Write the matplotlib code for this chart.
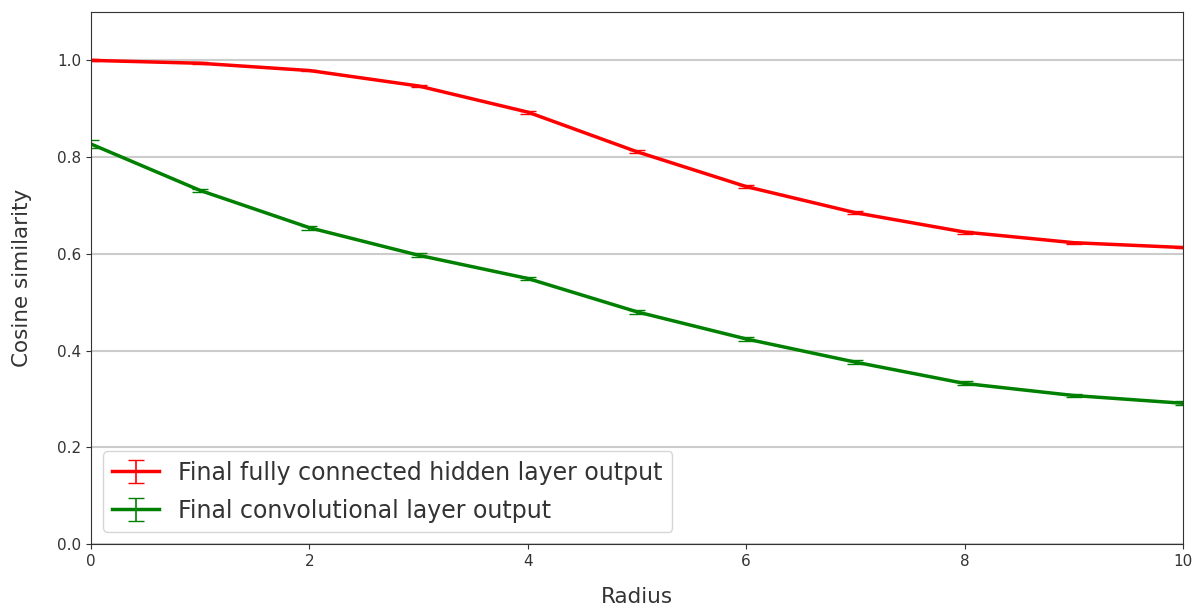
import matplotlib
matplotlib.use("Agg")
import matplotlib.pyplot as plt
import numpy as np

radius = [0, 1, 2, 3, 4, 5, 6, 7, 8, 9, 10]
fc_mean = [1.000, 0.994, 0.979, 0.947, 0.893, 0.811, 0.739, 0.685, 0.645, 0.623, 0.613]
fc_err = [0.002, 0.002, 0.002, 0.002, 0.003, 0.003, 0.003, 0.003, 0.003, 0.002, 0.002]
conv_mean = [0.827, 0.731, 0.654, 0.597, 0.549, 0.480, 0.424, 0.376, 0.332, 0.307, 0.291]
conv_err = [0.008, 0.004, 0.004, 0.004, 0.004, 0.004, 0.004, 0.004, 0.004, 0.004, 0.004]

text_color = '#333333'
plt.rcParams['text.color'] = text_color
plt.rcParams['axes.labelcolor'] = text_color
plt.rcParams['xtick.color'] = text_color
plt.rcParams['ytick.color'] = text_color

fig = plt.figure(figsize=(11.96, 6.08), dpi=100)
ax = fig.add_axes([91/1196, 1 - 544/608, (1183-91)/1196, (544-12)/608])

ax.errorbar(radius, fc_mean, yerr=fc_err, color='red', lw=2.5, elinewidth=1.2,
            capsize=5.5, label='Final fully connected hidden layer output')
ax.errorbar(radius, conv_mean, yerr=conv_err, color='green', lw=2.5, elinewidth=1.2,
            capsize=5.5, label='Final convolutional layer output')

ax.set_xlim(0, 10)
ax.set_ylim(0, 1.1)
ax.set_yticks([0.0, 0.2, 0.4, 0.6, 0.8, 1.0])
ax.set_xticks([0, 2, 4, 6, 8, 10])
ax.yaxis.grid(True, color='#cccccc', lw=1.5)
ax.set_axisbelow(True)
for s in ax.spines.values():
    s.set_color('#333333')
ax.tick_params(labelsize=11)
ax.set_xlabel('Radius', fontsize=15.5, labelpad=13)
ax.set_ylabel('Cosine similarity', fontsize=15.5, labelpad=18)
ax.legend(loc='lower left', fontsize=17, labelspacing=0.6)

fig.savefig('out.png', dpi=100)
